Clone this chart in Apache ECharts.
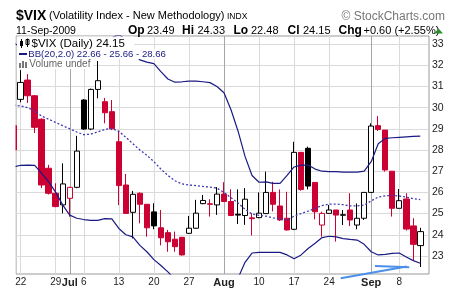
<!DOCTYPE html>
<html>
<head>
<meta charset="utf-8">
<script src="https://cdn.jsdelivr.net/npm/echarts@6.0.0/dist/echarts.min.js"></script>
<style>
html,body{margin:0;padding:0;background:#fff;}
#chart{width:453px;height:288px;}
</style>
</head>
<body>
<div id="chart"></div>
<script>
// ---------- data ----------
const dates = ['Jun 19','Jun 22','Jun 23','Jun 24','Jun 25','Jun 26','Jun 29','Jun 30','Jul 1','Jul 2',
  'Jul 6','Jul 7','Jul 8','Jul 9','Jul 10','Jul 13','Jul 14','Jul 15','Jul 16','Jul 17',
  'Jul 20','Jul 21','Jul 22','Jul 23','Jul 24','Jul 27','Jul 28','Jul 29','Jul 30','Jul 31',
  'Aug 3','Aug 4','Aug 5','Aug 6','Aug 7','Aug 10','Aug 11','Aug 12','Aug 13','Aug 14',
  'Aug 17','Aug 18','Aug 19','Aug 20','Aug 21','Aug 24','Aug 25','Aug 26','Aug 27','Aug 28',
  'Aug 31','Sep 1','Sep 2','Sep 3','Sep 4','Sep 8','Sep 9','Sep 10','Sep 11'];

const open = [29.15,30.39,31.30,30.56,29.45,27.14,25.96,25.41,25.72,26.24,
  30.36,28.99,30.86,30.28,29.81,28.39,26.35,25.06,25.96,25.44,
  25.08,24.33,24.10,23.79,23.88,24.07,24.31,25.47,25.46,25.41,
  25.92,25.57,24.97,24.91,24.80,24.81,25.00,26.00,25.36,24.78,
  24.26,27.89,28.08,26.47,24.46,25.01,25.17,24.92,25.17,24.46,
  24.78,26.00,29.15,28.94,27.00,25.25,25.69,24.42,23.49];
const high = [29.30,31.77,31.58,30.60,29.50,27.30,26.43,27.37,26.26,28.67,
  30.40,30.90,32.20,30.46,30.36,28.91,26.87,26.07,26.00,25.45,
  25.49,25.17,24.23,24.15,23.90,24.89,25.65,25.88,25.68,26.25,
  26.48,26.15,26.14,26.20,25.02,26.00,26.98,26.50,26.14,26.03,
  28.39,27.90,28.16,26.47,25.09,25.41,25.17,25.17,25.96,25.48,
  26.00,29.26,29.60,28.94,27.00,26.16,25.96,24.78,24.33];
const low = [27.90,30.25,30.22,28.80,26.20,25.90,25.30,25.01,24.85,26.20,
  28.95,28.94,30.44,29.26,28.94,25.40,25.00,23.83,24.54,23.91,
  24.26,23.50,23.20,23.20,23.02,24.04,24.28,25.44,24.86,24.94,
  25.55,24.88,24.51,24.47,23.97,24.78,24.98,25.10,24.65,24.20,
  24.22,26.08,26.14,24.73,23.91,25.00,23.68,24.46,24.41,24.26,
  24.70,26.00,28.90,26.98,24.86,25.25,24.20,22.81,22.48];
const close = [28.00,31.19,30.56,29.07,26.35,25.96,25.33,26.40,26.24,27.95,
  28.99,30.86,31.27,29.76,29.00,26.32,25.01,25.91,25.44,24.33,
  24.42,23.86,23.67,23.44,23.05,24.31,25.02,25.62,25.44,25.92,
  25.57,24.91,24.93,25.68,24.76,25.02,26.00,25.44,24.70,24.23,
  27.89,26.14,26.30,25.09,25.01,25.17,24.93,24.95,24.70,24.78,
  26.00,29.13,28.97,27.06,25.25,25.61,24.27,23.55,24.15];

const bbUpper = [33.04,32.88,32.71,32.42,32.30,32.40,32.60,32.90,33.07,32.92,
  32.72,32.82,33.04,33.18,33.29,33.46,33.20,32.60,32.25,32.15,
  32.08,31.70,31.35,31.20,31.22,31.25,31.25,31.22,31.18,31.00,
  30.70,29.90,28.90,27.70,26.80,26.48,26.50,26.43,26.43,26.80,
  27.20,27.29,27.29,27.10,27.00,26.98,26.98,26.96,26.96,26.96,
  27.00,27.45,28.30,28.55,28.58,28.60,28.62,28.64,28.66];
const bbMiddle = [30.12,30.08,30.00,29.85,29.60,29.45,29.30,29.15,29.00,28.85,
  28.72,28.75,28.86,28.97,29.02,28.88,28.60,28.30,28.00,27.75,
  27.45,27.10,26.80,26.55,26.40,26.35,26.32,26.28,26.25,26.20,
  26.00,25.75,25.50,25.20,24.98,24.92,24.88,24.80,24.75,24.70,
  24.88,25.00,25.12,25.25,25.38,25.45,25.45,25.42,25.36,25.36,
  25.40,25.60,25.78,25.84,25.86,25.83,25.78,25.70,25.66];
const bbLower = [27.20,27.28,27.29,27.28,26.90,26.50,26.00,25.40,24.93,24.78,
  24.72,24.68,24.68,24.76,24.75,24.30,24.00,23.90,23.50,23.20,
  22.83,22.55,22.25,21.90,21.60,21.30,21.20,21.20,21.30,21.40,
  21.50,21.70,21.95,22.70,23.14,23.17,23.17,23.17,23.17,23.05,
  22.87,23.05,23.35,23.60,23.87,23.93,23.90,23.82,23.78,23.75,
  23.55,23.20,23.05,23.08,23.12,23.14,22.95,22.78,22.66];

const tickDates  = ['Jun 22','Jun 29','Jul 1','Jul 6','Jul 13','Jul 20','Jul 27','Aug 3','Aug 10','Aug 17','Aug 24','Sep 1','Sep 8'];
const tickLabels = ['22','29','Jul','6','13','20','27','Aug','10','17','24','Sep','8'];
const yTicks = [23,24,25,26,27,28,29,30,31,32,33];

// hand-drawn annotation (blue strokes, data coordinates: [day index, value])
const annotationA = [[46.65, 21.95], [56.06, 22.50]];
const annotationB = [[51.54, 22.53], [56.43, 22.47]];

// ---------- styling ----------
const FONT = "'Liberation Sans', Arial, sans-serif";
const RED = '#cc0033';
const NAVY = '#1a1a84';

const candleData = dates.map((d, k) => {
  const o = open[k], c = close[k];
  const prev = k > 0 ? close[k - 1] : open[k];
  const stroke = c >= prev ? '#000000' : RED;
  const fill = c > o ? '#ffffff' : stroke;
  return {
    value: [k, o, c, low[k], high[k]],
    itemStyle: { color: fill, color0: fill, borderColor: stroke, borderColor0: stroke, borderWidth: 1 }
  };
});
const toLine = arr => arr.map((v, k) => [k, v]);

const tickPos = tickDates.map(d => dates.indexOf(d));
const isMonth = tickLabels.map(l => /^[A-Za-z]/.test(l));
const gridColors = isMonth.map(m => m ? '#a6a6a6' : '#dadada');

const n = close.length;
const lastO = open[n - 1], lastH = high[n - 1], lastL = low[n - 1], lastC = close[n - 1];
const chg = lastC - close[n - 2];
const pct = chg / close[n - 2] * 100;
const sgn = v => (v >= 0 ? '+' : '') + v.toFixed(2);

function txt(x, y, text, font, fill, align) {
  return { type: 'text', z: 100, x: x, y: y, silent: true,
    style: { text: text, font: font, fill: fill || '#000',
      align: align || 'left', verticalAlign: 'middle',
      textAlign: align || 'left', textVerticalAlign: 'middle' } };
}
function rect(x, y, w, h, fill, stroke) {
  return { type: 'rect', z: 100, silent: true, shape: { x: x, y: y, width: w, height: h },
    style: { fill: fill, stroke: stroke || null, lineWidth: 1 } };
}
function seg(x1, y1, x2, y2, color, w) {
  return { type: 'line', z: 101, silent: true, shape: { x1: x1, y1: y1, x2: x2, y2: y2 },
    style: { stroke: color, lineWidth: w || 1 } };
}

const graphics = [
  // white margin left of the plot (hides the part of a candle that spills past the plot edge)
  rect(0, 36, 15.5, 240, '#fff'),
  // header
  txt(16, 16, '$VIX', 'bold 14px ' + FONT, '#000'),
  txt(49, 16, '(Volatility Index - New Methodology)', '11px ' + FONT, '#000'),
  txt(227, 16.5, 'INDX', '8.5px ' + FONT, '#000'),
  txt(445, 16.3, '\u00a9 StockCharts.com', '12px ' + FONT, '#777', 'right'),
  txt(16, 30.8, '11-Sep-2009', '10.5px ' + FONT, '#000'),
  txt(128, 30.8, 'Op', 'bold 12px ' + FONT), txt(147, 30.8, lastO.toFixed(2), '11px ' + FONT),
  txt(182, 30.8, 'Hi', 'bold 12px ' + FONT), txt(197.5, 30.8, lastH.toFixed(2), '11px ' + FONT),
  txt(233.5, 30.8, 'Lo', 'bold 12px ' + FONT), txt(251, 30.8, lastL.toFixed(2), '11px ' + FONT),
  txt(287.5, 30.8, 'Cl', 'bold 12px ' + FONT), txt(303, 30.8, lastC.toFixed(2), '11px ' + FONT),
  txt(338.5, 30.8, 'Chg', 'bold 12px ' + FONT),
  txt(363.5, 30.8, sgn(chg) + ' (' + sgn(pct) + '%)', '11px ' + FONT),
  { type: 'polygon', z: 100, silent: true, shape: { points: [[434, 33.5], [443, 33.5], [438.5, 28.5]] }, style: { fill: '#2e8b2e' } },
  // legend boxes (opaque, they hide lines and grid behind them)
  rect(17, 36.5, 117, 12.5, '#fff'),
  rect(17, 49, 152.5, 10, '#fff'),
  rect(17, 59, 76, 10, '#fff'),
  // legend line 1 icon (candles)
  seg(21.5, 39, 21.5, 48, '#000', 1), rect(20, 41, 3, 5, '#000'),
  seg(27.5, 38.5, 27.5, 47, '#000', 1), rect(26, 39.5, 3, 5, '#fff', '#000'),
  txt(31.5, 43.7, '$VIX (Daily) ' + lastC.toFixed(2), '11.5px ' + FONT, '#000'),
  // legend line 2
  seg(19, 54, 27, 54, NAVY, 2),
  txt(28.3, 54, 'BB(20,2.0) ' + bbLower[n - 1].toFixed(2) + ' - ' + bbMiddle[n - 1].toFixed(2) + ' - ' + bbUpper[n - 1].toFixed(2), '9.6px ' + FONT, NAVY),
  // legend line 3
  rect(19, 63, 2, 5, '#777'), rect(22, 61, 2, 7, '#777'), rect(25, 62, 2, 6, '#777'),
  txt(29.3, 64, 'Volume undef', '10px ' + FONT, '#666')
];

const option = {
  animation: false,
  backgroundColor: '#fff',
  grid: { left: 16, right: 24, top: 36, bottom: 14, show: true, borderColor: '#9a9a9a', borderWidth: 1, backgroundColor: '#fff' },
  xAxis: {
    type: 'value', min: 0.33, max: 59.245,
    axisLine: { show: false },
    axisTick: { show: false, customValues: tickPos },
    axisLabel: {
      customValues: tickPos, margin: 3, color: '#222', fontFamily: FONT, fontSize: 10,
      formatter: v => { const i = tickPos.indexOf(Math.round(v)); if (i < 0) return ''; return isMonth[i] ? '{m|' + tickLabels[i] + '}' : tickLabels[i]; },
      rich: { m: { fontWeight: 'bold', fontSize: 11, fontFamily: FONT, color: '#222' } }
    },
    splitLine: { show: true, lineStyle: { color: gridColors, width: 1 } }
  },
  yAxis: {
    type: 'value', position: 'right', min: 22.15, max: 33.38, scale: true,
    axisLine: { show: false },
    axisTick: { show: false, customValues: yTicks },
    axisLabel: { customValues: yTicks, margin: 3, color: '#222', fontFamily: FONT, fontSize: 10.5 },
    splitLine: { show: true, lineStyle: { color: '#dadada', width: 1 } }
  },
  series: [
    { type: 'candlestick', data: candleData, barWidth: 6, clip: true, silent: true },
    { type: 'line', data: toLine(bbUpper), showSymbol: false, clip: true, silent: true,
      lineStyle: { color: NAVY, width: 1.2 } },
    { type: 'line', data: toLine(bbLower), showSymbol: false, clip: true, silent: true,
      lineStyle: { color: NAVY, width: 1.2 } },
    { type: 'line', data: toLine(bbMiddle), showSymbol: false, clip: true, silent: true,
      lineStyle: { color: '#3c3cb4', width: 1.3, type: [2, 2] } }
  ],
  graphic: { elements: graphics }
};

const chart = echarts.init(document.getElementById('chart'), null, { renderer: 'canvas', width: 453, height: 288 });
chart.setOption(option);

// annotation strokes positioned through the chart's own scales
const ann = [annotationA, annotationB].map((pts, j) => {
  const p1 = chart.convertToPixel({ gridIndex: 0 }, pts[0]);
  const p2 = chart.convertToPixel({ gridIndex: 0 }, pts[1]);
  const s = seg(p1[0], p1[1], p2[0], p2[1], '#4a8fe8', 2);
  s.id = 'ann' + j;
  return s;
});
chart.setOption({ graphic: { elements: graphics.concat(ann) } });
</script>
</body>
</html>
